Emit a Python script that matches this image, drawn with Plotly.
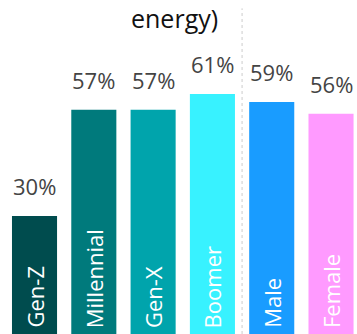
import plotly.graph_objects as go

categories = ["Gen-Z", "Millennial", "Gen-X", "Boomer", "Male", "Female"]
values = [30, 57, 57, 61, 59, 56]
colors = ["#004C4E", "#007A7C", "#00A4AC", "#38F2FF", "#199CFF", "#FF9AFF"]
title_text = "energy)"

FONT = "Open Sans"
xs = list(range(len(categories)))

fig = go.Figure()
fig.add_trace(go.Bar(
    x=xs, y=values, width=0.76,
    marker=dict(color=colors, line=dict(width=0)),
    hoverinfo="skip", showlegend=False,
))

for i, (c, v) in enumerate(zip(categories, values)):
    fig.add_annotation(x=i, y=v, text=f"{v}%", showarrow=False,
                       xanchor="center", yanchor="bottom", yshift=13,
                       font=dict(family=FONT, size=22, color="#444444"))
    fig.add_annotation(x=i, y=0, text=c, showarrow=False, textangle=-90,
                       xanchor="center", yanchor="bottom", yshift=4,
                       font=dict(family=FONT, size=22, color="#FFFFFF"))

fig.add_annotation(x=0.49, xref="paper", y=1.0, yref="paper", yshift=0,
                   text=title_text, showarrow=False, xanchor="center", yanchor="top",
                   borderpad=0,
                   font=dict(family=FONT, size=25, color="#111111"))

fig.add_shape(type="line", x0=3.5, x1=3.5, xref="x", y0=0, y1=0.975, yref="paper",
              line=dict(color="#CCCCCC", width=1, dash="dot"))

fig.update_layout(
    width=357, height=334,
    margin=dict(l=0, r=0, t=0, b=0),
    paper_bgcolor="white", plot_bgcolor="white",
    xaxis=dict(range=[-0.582, 5.438], visible=False, fixedrange=True),
    yaxis=dict(range=[0, 84.9], visible=False, fixedrange=True),
)

fig.write_html("out.html")
